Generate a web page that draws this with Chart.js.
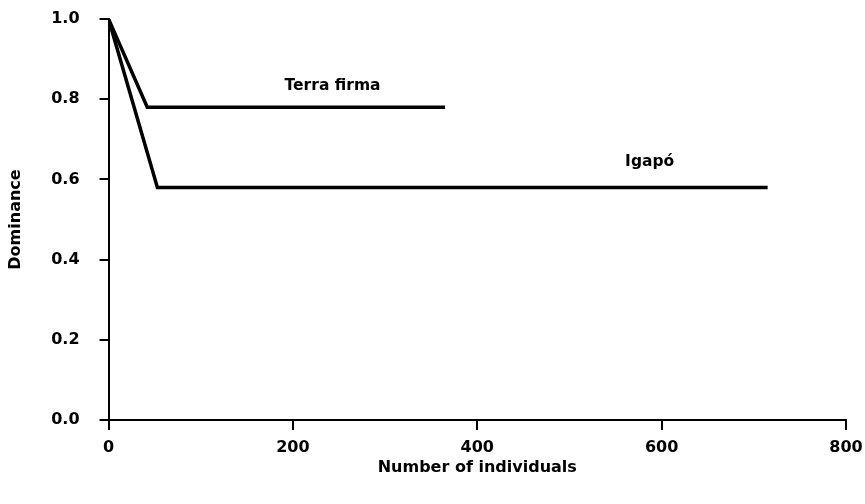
<!DOCTYPE html>
<html>
<head>
<meta charset="utf-8">
<script src="https://cdn.jsdelivr.net/npm/chart.js@4"></script>
<style>
  html, body { margin: 0; padding: 0; background: #fff; }
  #wrap { width: 865px; height: 504px; position: relative; }
</style>
</head>
<body>
<div id="wrap"><canvas id="domChart"></canvas></div>
<script>
// data
const terraX = [0, 42, 365];
const terraY = [1.0, 0.78, 0.78];
const igapoX = [0, 53, 715];
const igapoY = [1.0, 0.58, 0.58];

const xTicks = [0, 200, 400, 600, 800];
const yTicks = [0.0, 0.2, 0.4, 0.6, 0.8, 1.0];

// in-plot labels: [text, x, y]
const seriesLabels = [
  ['Terra firma', 243, 0.834],
  ['Igapó', 587, 0.643]
];

const FONT = '"DejaVu Sans", Verdana, sans-serif';

const toPoints = (xs, ys) => xs.map((x, i) => ({ x: x, y: ys[i] }));

// draws the curve names at data positions
const labelPlugin = {
  id: 'seriesLabels',
  afterDatasetsDraw(chart) {
    const ctx = chart.ctx;
    const xs = chart.scales.x, ys = chart.scales.y;
    ctx.save();
    ctx.fillStyle = '#000';
    ctx.font = 'bold 15.5px ' + FONT;
    ctx.textAlign = 'center';
    ctx.textBaseline = 'middle';
    seriesLabels.forEach(l => {
      ctx.fillText(l[0], xs.getPixelForValue(l[1]), ys.getPixelForValue(l[2]));
    });
    ctx.restore();
  }
};

new Chart(document.getElementById('domChart').getContext('2d'), {
  type: 'scatter',
  data: {
    datasets: [
      {
        label: 'Terra firma',
        data: toPoints(terraX, terraY),
        showLine: true,
        borderColor: '#000',
        borderWidth: 3.5,
        pointRadius: 0,
        tension: 0
      },
      {
        label: 'Igapó',
        data: toPoints(igapoX, igapoY),
        showLine: true,
        borderColor: '#000',
        borderWidth: 3.5,
        pointRadius: 0,
        tension: 0
      }
    ]
  },
  plugins: [labelPlugin],
  options: {
    responsive: true,
    maintainAspectRatio: false,
    animation: false,
    layout: { padding: { top: 0, right: 0, bottom: 24, left: 2 } },
    plugins: {
      legend: { display: false },
      tooltip: { enabled: false }
    },
    scales: {
      x: {
        type: 'linear',
        min: 0,
        max: 800,
        afterBuildTicks: axis => { axis.ticks = xTicks.map(v => ({ value: v })); },
        // keep the right margin tight like the figure
        afterFit: axis => { axis.paddingRight = 19; },
        ticks: {
          color: '#000',
          padding: 10,
          font: { family: FONT, size: 16, weight: 'bold', lineHeight: 1 }
        },
        grid: {
          drawOnChartArea: false,
          drawTicks: true,
          tickLength: 10,
          color: '#000',
          lineWidth: 2
        },
        border: { display: true, color: '#000', width: 2 },
        title: {
          display: true,
          text: 'Number of individuals',
          color: '#000',
          padding: { top: -6, bottom: 4 },
          font: { family: FONT, size: 16, weight: 'bold', lineHeight: 1 }
        }
      },
      y: {
        min: 0,
        max: 1,
        afterBuildTicks: axis => { axis.ticks = yTicks.map(v => ({ value: v })); },
        afterFit: axis => { axis.paddingTop = 19; },
        ticks: {
          color: '#000',
          padding: 20,
          callback: v => v.toFixed(1),
          font: { family: FONT, size: 16, weight: 'bold' }
        },
        grid: {
          drawOnChartArea: false,
          drawTicks: true,
          tickLength: 9,
          color: '#000',
          lineWidth: 2
        },
        border: { display: true, color: '#000', width: 2 },
        title: {
          display: true,
          text: 'Dominance',
          color: '#000',
          padding: { top: 4, bottom: 6 },
          font: { family: FONT, size: 16, weight: 'bold' }
        }
      }
    }
  }
});
</script>
</body>
</html>
